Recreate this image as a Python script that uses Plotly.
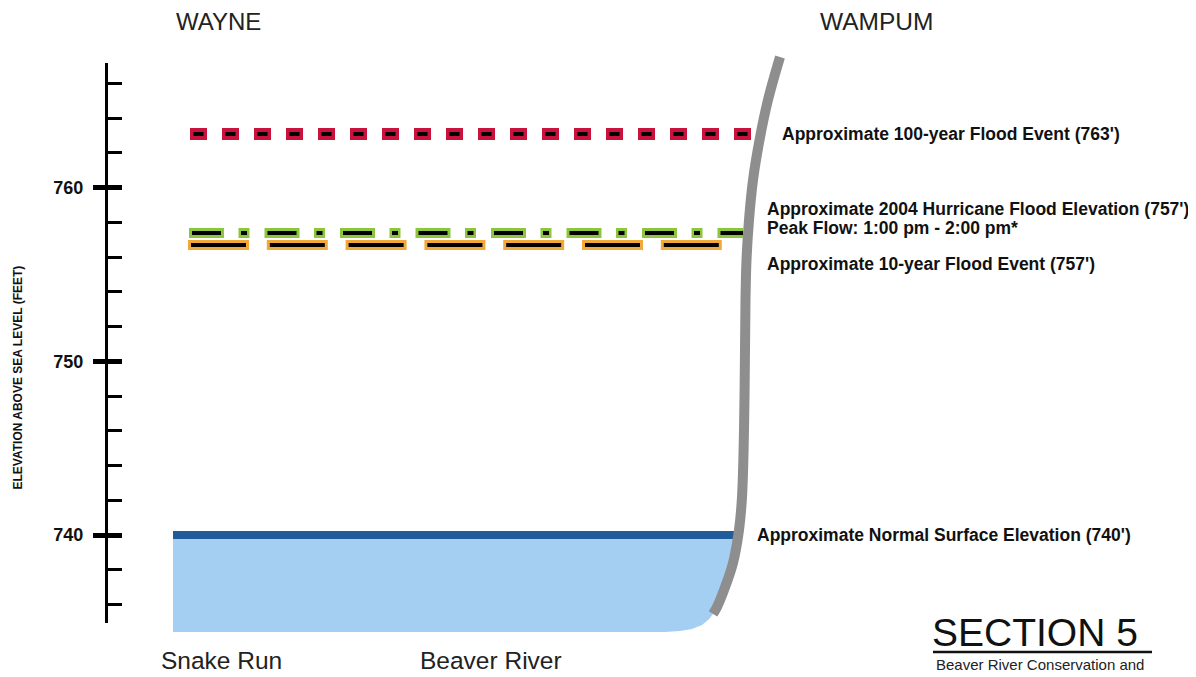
import plotly.graph_objects as go

# ---------------- data ----------------
town_names = ["WAYNE", "WAMPUM"]
place_names = ["Snake Run", "Beaver River"]

# elevation axis (feet above sea level)
major_ticks = [740, 750, 760]
minor_step = 2

# flood levels as drawn (ft) and their station extents
level_names = ["100-year", "2004 Hurricane", "10-year", "Normal surface"]
level_elev = [763.08, 757.38, 756.69, 740.0]
level_start = [190, 189, 188, 173]
level_end = [753, 743, 722, 737]
label_texts = [
    "Approximate 100-year Flood Event (763')",
    "Approximate 2004 Hurricane Flood Elevation (757')",
    "Peak Flow: 1:00 pm - 2:00 pm*",
    "Approximate 10-year Flood Event (757')",
    "Approximate Normal Surface Elevation (740')",
]

# right river bank (WAMPUM side) profile: station, elevation
bank_station = [780, 768, 759.5, 753, 749, 746.5, 745.5, 745, 744, 742, 739, 733, 724, 717, 713]
bank_elev = [767.51, 765.04, 762.73, 760.43, 758.13, 755.83, 753.53, 750.65,
             746.04, 742.18, 740.29, 738.39, 736.83, 735.86, 735.46]

# river water cross-section outline
water_station = [173, 739, 736, 733, 729, 724, 717, 713, 709, 702, 692, 680, 665, 173, 173]
water_elev = [740.0, 740.0, 739.3, 738.39, 737.6, 736.83, 735.86, 735.46, 735.15,
              734.82, 734.59, 734.48, 734.42, 734.42, 740.0]

# ---------------- geometry helpers ----------------
OFF = 8                      # page body margin of the browser
FW, FH = 1196 - OFF, 677 - OFF
px_per_ft = 17.375
y_top = 760 + (187.5 - OFF) / px_per_ft
y_bot = y_top - FH / px_per_ft
axis_top_px, axis_bot_px = 63, 623
ax_top = 760 + (187.5 - axis_top_px) / px_per_ft
ax_bot = 760 + (187.5 - axis_bot_px) / px_per_ft


def px(x):
    return (x - OFF) / FW


def py(y):
    return 1 - (y - OFF) / FH


def elev_at(ypix):
    return 760 + (187.5 - ypix) / px_per_ft


FONT = "Liberation Sans, Arial, sans-serif"

fig = go.Figure()

# water body
fig.add_trace(go.Scatter(x=water_station, y=water_elev, mode="lines", fill="toself",
                         fillcolor="#a4cff3", line=dict(width=0),
                         hoverinfo="skip", showlegend=False))
# normal surface line
fig.add_trace(go.Scatter(x=[level_start[3], level_end[3]], y=[level_elev[3]] * 2,
                         mode="lines", line=dict(color="#1f5c99", width=8),
                         hoverinfo="skip", showlegend=False))
# bank
fig.add_trace(go.Scatter(x=bank_station, y=bank_elev, mode="lines",
                         line=dict(color="#8e8e8e", width=10, shape="spline", smoothing=1),
                         hoverinfo="skip", showlegend=False))

# flood lines: outer coloured dash + inner black dash
styles = [
    ("#c8143c", 12, "17px,15px", 3.5, "10px,22px"),
    ("#8cc63f", 10, "35px,14.5px,11px,15px", 3, "29px,20px,6px,20.5px"),
    ("#f2a93b", 10, "61px,17.8px", 3, "55px,23.8px"),
]
for i, (col, w, dash, off, idash) in enumerate(styles):
    fig.add_trace(go.Scatter(x=[level_start[i], level_end[i]], y=[level_elev[i]] * 2,
                             mode="lines", line=dict(color=col, width=w, dash=dash),
                             hoverinfo="skip", showlegend=False))
    fig.add_trace(go.Scatter(x=[level_start[i] + off, level_end[i]], y=[level_elev[i]] * 2,
                             mode="lines", line=dict(color="black", width=4, dash=idash),
                             hoverinfo="skip", showlegend=False))

# dummy traces so the elevation-scale axes are drawn
for ya in ["y2", "y3"]:
    fig.add_trace(go.Scatter(x=[None], y=[None], xaxis="x", yaxis=ya,
                             hoverinfo="skip", showlegend=False))

# ---------------- annotations ----------------
ann = []
lab_x = [780, 765, 765, 765, 755]
lab_ypx = [134, 209, 228, 264, 535]
for i, t in enumerate(label_texts):
    ann.append(dict(x=lab_x[i], y=elev_at(lab_ypx[i]), xref="x", yref="y",
                    text="<b>" + t + "</b>", showarrow=False, xanchor="left",
                    yanchor="middle", align="left",
                    font=dict(family=FONT, size=17.5, color="#111111")))


def txt(x, y, t, size, color="#222222", **kw):
    d = dict(x=px(x), y=py(y), xref="paper", yref="paper", text=t, showarrow=False,
             xanchor="center", yanchor="middle",
             font=dict(family=FONT, size=size, color=color))
    d.update(kw)
    ann.append(d)


txt(218, 22, town_names[0], 24)
txt(876, 22, town_names[1], 24.5)
txt(221, 660, place_names[0], 24.5)
txt(491, 660, place_names[1], 24.5)
txt(17, 377.5, "<b>ELEVATION ABOVE SEA LEVEL (FEET)</b>", 12, "#111111", textangle=-90)
txt(1035, 632, "SECTION 5", 39, "#111111")
txt(1040, 664, "Beaver River Conservation and", 15)

shapes = [dict(type="line", xref="paper", yref="paper", x0=px(933), x1=px(1152),
               y0=py(652), y1=py(652), line=dict(color="#111111", width=2.5))]

dom = [py(axis_bot_px), py(axis_top_px)]
fig.update_layout(
    width=FW, height=FH, margin=dict(l=0, r=0, t=0, b=0, pad=0),
    paper_bgcolor="white", plot_bgcolor="rgba(0,0,0,0)",
    xaxis=dict(range=[OFF, 1196], domain=[0, 1], visible=False, fixedrange=True),
    yaxis=dict(range=[y_bot, y_top], domain=[0, 1], visible=False, fixedrange=True),
    yaxis2=dict(range=[ax_bot, ax_top], domain=dom, anchor="free", position=px(106),
                showline=True, linewidth=3, linecolor="black", showgrid=False,
                zeroline=False, ticks="inside", tickvals=major_ticks, ticklen=14,
                tickwidth=5, tickcolor="black", showticklabels=False,
                minor=dict(dtick=minor_step, tick0=740, ticks="inside", ticklen=14,
                           tickwidth=3, tickcolor="black", showgrid=False),
                fixedrange=True),
    yaxis3=dict(range=[ax_bot, ax_top], domain=dom, anchor="free", position=px(106),
                showline=False, showgrid=False, zeroline=False, ticks="outside",
                tickvals=major_ticks, ticklen=13, tickwidth=5, tickcolor="black",
                ticklabelstandoff=6,
                tickfont=dict(family=FONT, size=18, color="#111111", weight="bold"),
                fixedrange=True),
    annotations=ann, shapes=shapes, showlegend=False,
)

fig.write_html("out.html")
